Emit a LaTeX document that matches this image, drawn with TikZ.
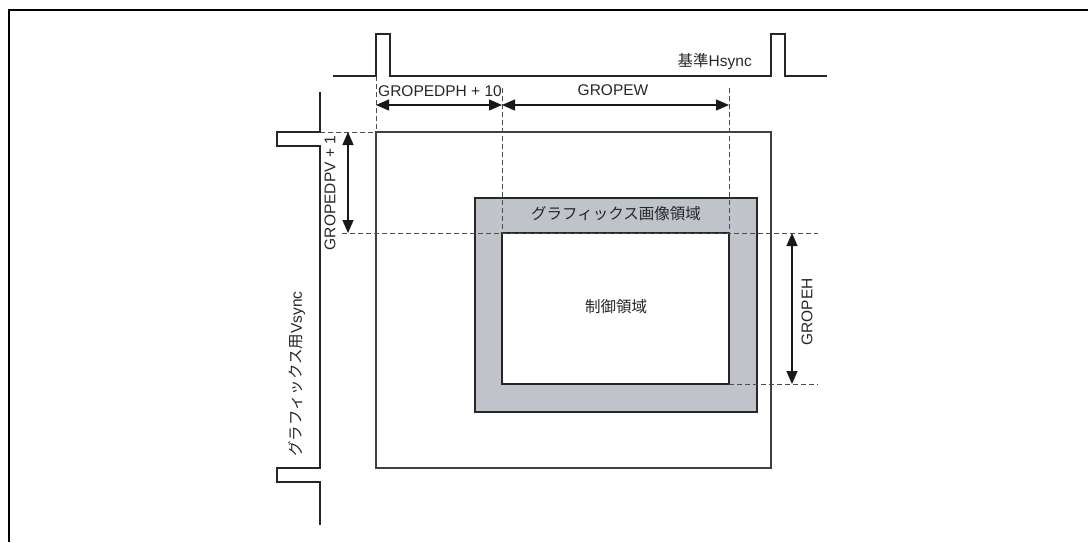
\documentclass[tikz,border=0pt]{standalone}
\usepackage{fontspec}
\setmainfont{Liberation Sans}
\newfontfamily\jp{Noto Sans CJK JP}
\usetikzlibrary{arrows.meta}
\definecolor{gfill}{RGB}{192,195,202}
\begin{document}
\begin{tikzpicture}[x=1pt,y=-1pt,
  sig/.style={line width=1.3pt, draw=black!85},
  boxline/.style={line width=1.3pt, draw=black!75},
  guide/.style={line width=1pt, draw=black!70, dash pattern=on 5pt off 3pt},
  dim/.style={line width=1.3pt, draw=black!90, {Triangle[length=13pt,width=11pt]}-{Triangle[length=13pt,width=11pt]}},
  lbl/.style={font=\fontsize{15.5}{18}\selectfont, inner sep=0pt, text=black!85},
]
\useasboundingbox (0,0) rectangle (1088,542);
% frame
\draw[line width=2pt] (9,542) -- (9,10) -- (1088,10);

% key coordinates
\coordinate (oTL) at (376,132);
\coordinate (oBR) at (771,468);
\coordinate (gTL) at (475,198);
\coordinate (gBR) at (757,412);
\coordinate (iTL) at (502,233);
\coordinate (iBR) at (729,384);

% outer area
\draw[boxline] (oTL) rectangle (oBR);
% graphics image area
\filldraw[fill=gfill, boxline, draw=black!85] (gTL) rectangle (gBR);
% control area
\filldraw[fill=white, boxline, draw=black!85] (iTL) rectangle (iBR);

% guide lines
\coordinate (dA1) at (376,76);
\coordinate (dB1) at (502,88);
\coordinate (dC1) at (729,88);
\coordinate (dV1) at (320,132);
\coordinate (dH0) at (342,233);
\coordinate (dH1) at (818,233);
\coordinate (dL0) at (729,384);
\coordinate (dL1) at (818,384);
\draw[guide] (dA1) -- (oTL);
\draw[guide] (dB1) -- (iTL);
\draw[guide] (dC1) -- (iTL -| dC1);
\draw[guide] (dV1) -- (oTL);
\draw[guide] (dH0) -- (dH1);
\draw[guide] (dL0) -- (dL1);

% Hsync waveform
\coordinate (hs0) at (333,76);
\coordinate (hs1) at (827,76);
\draw[sig] (hs0) -- (376,76) -- (376,34) -- (390,34) -- (390,76)
  -- (771,76) -- (771,34) -- (785,34) -- (785,76) -- (hs1);

% Vsync waveform
\coordinate (vs0) at (320,92);
\coordinate (vs1) at (320,525);
\draw[sig] (vs0) -- (320,132) -- (277,132) -- (277,146) -- (320,146)
  -- (320,468) -- (277,468) -- (277,482) -- (320,482) -- (vs1);

% dimension arrows
\coordinate (aL) at (376,105);
\coordinate (aM) at (502,105);
\coordinate (aR) at (729,105);
\draw[dim] (aL) -- (aM);
\draw[dim] (aM) -- (aR);
\coordinate (pT) at (348,132);
\coordinate (pB) at (348,233);
\draw[dim] (pT) -- (pB);
\coordinate (eT) at (792,233);
\coordinate (eB) at (792,384);
\draw[dim] (eT) -- (eB);

% labels
\node[lbl, anchor=east] (hslbl) at (752,62) {{\jp 基準}Hsync};
\node[lbl, anchor=west] (dph) at (378,91) {GROPEDPH + 10};
\node[lbl] (gw) at (613,90) {GROPEW};
\node[lbl, rotate=90] (dpv) at (330,193) {GROPEDPV + 1};
\node[lbl, rotate=90] (gh) at (807,312) {GROPEH};
\node[lbl, rotate=90] (vslbl) at (297,374) {{\jp グラフィックス用}Vsync};
\node[lbl] (gra) at (616,214) {\jp グラフィックス画像領域};
\node[lbl] (ctl) at (616,307) {\jp 制御領域};
\end{tikzpicture}
\end{document}
